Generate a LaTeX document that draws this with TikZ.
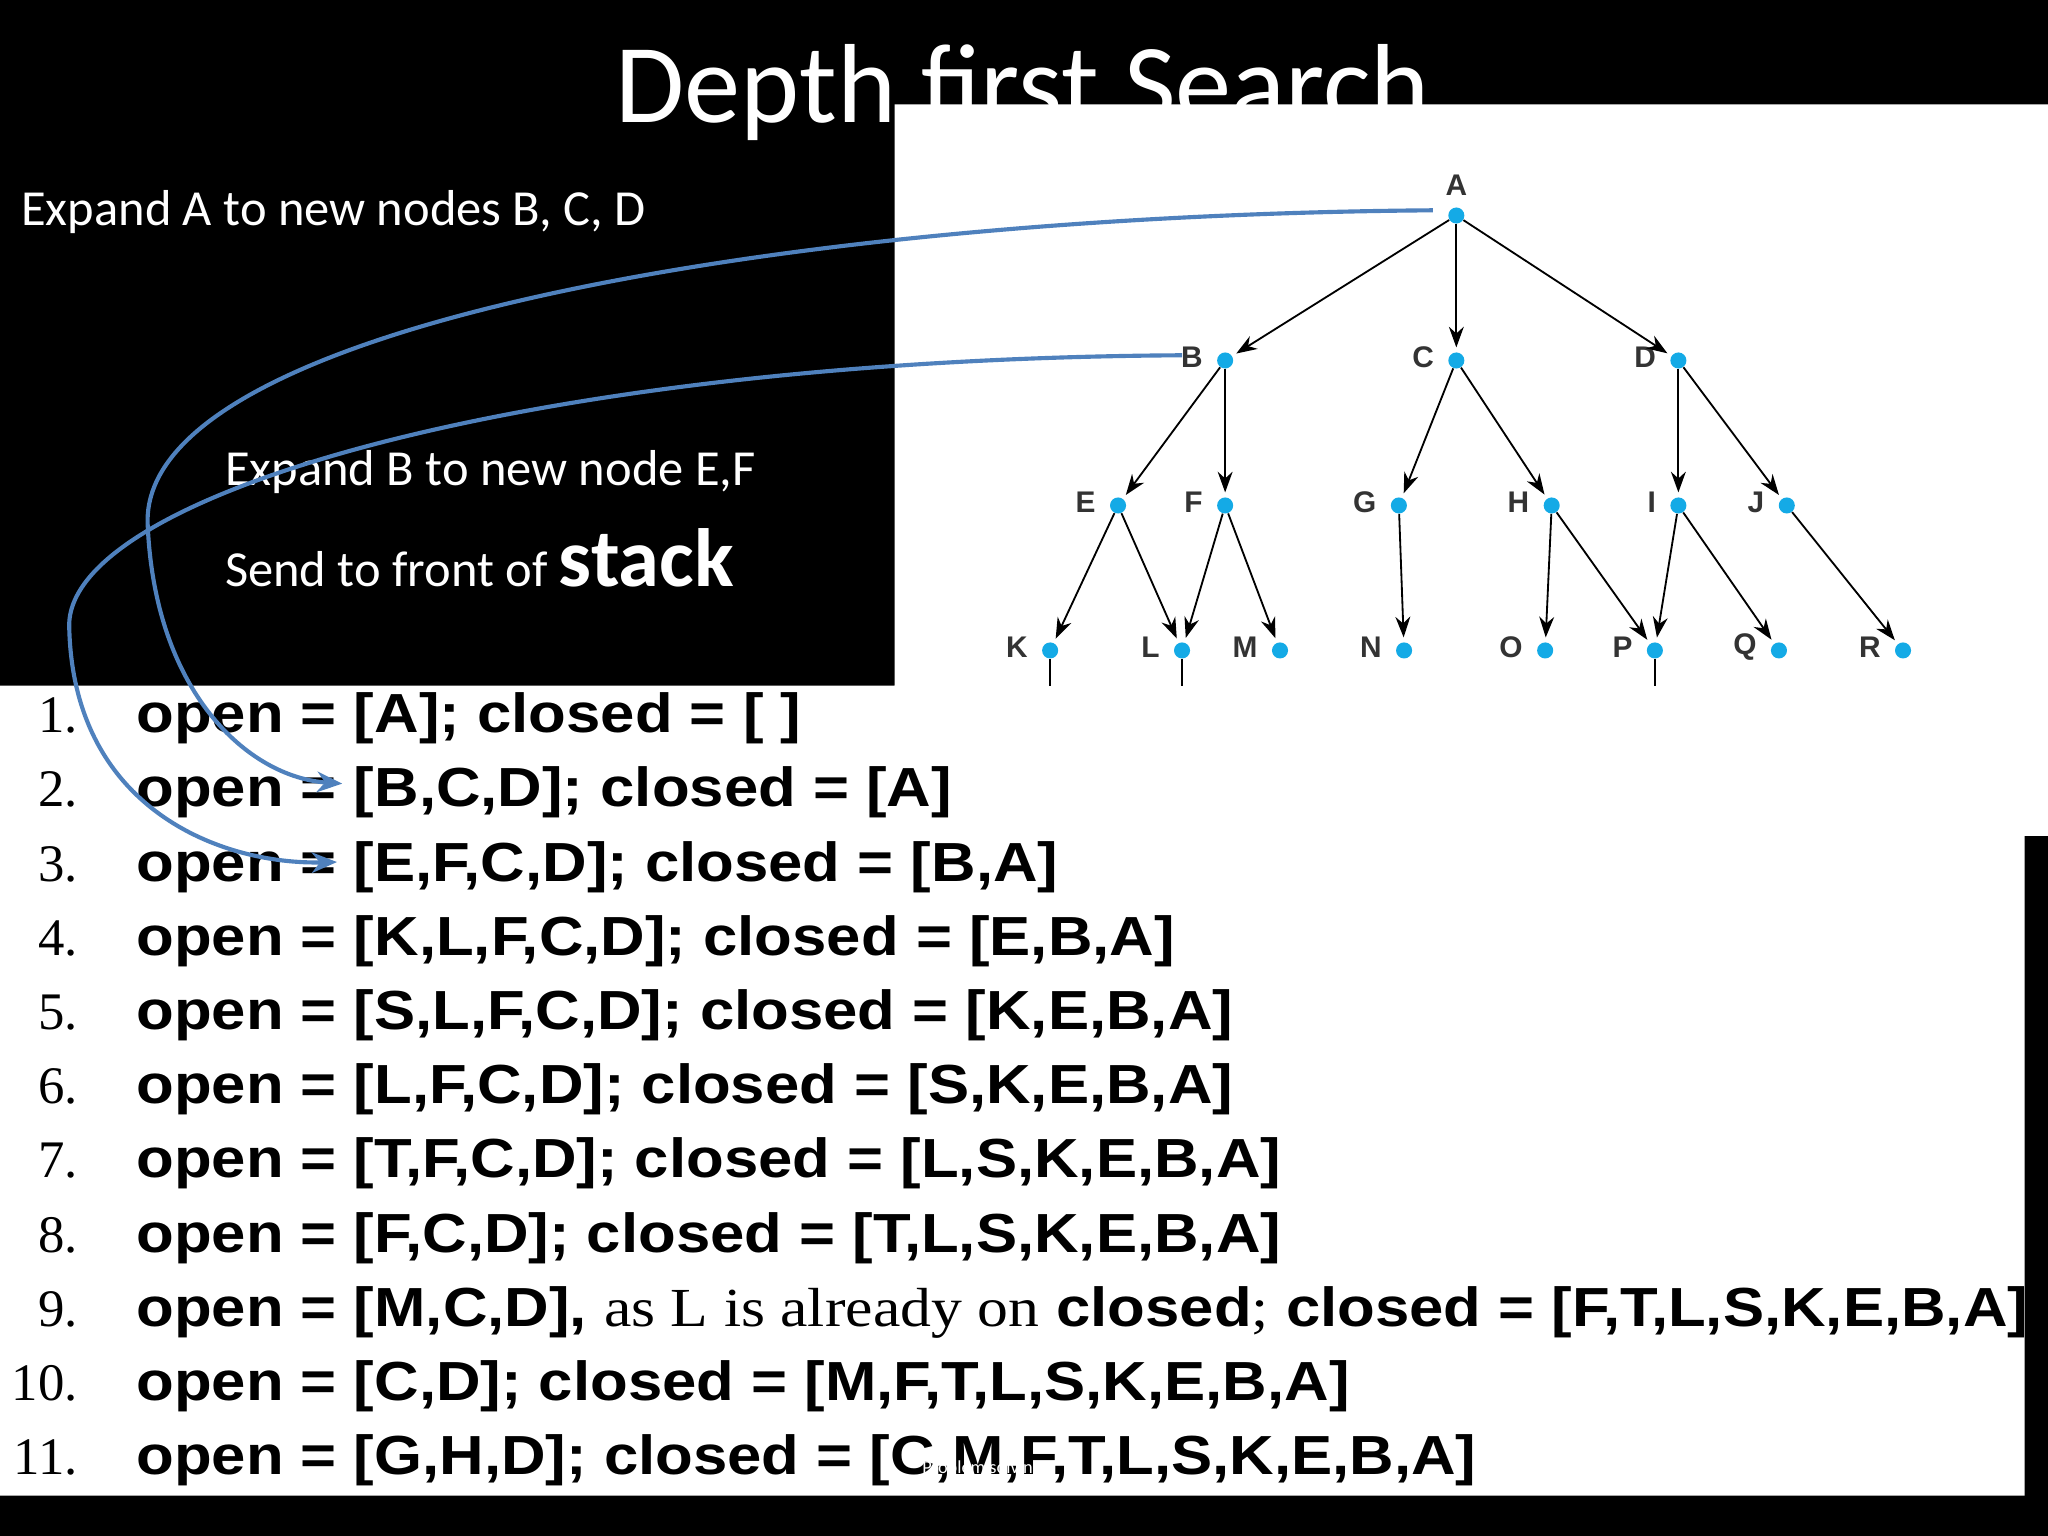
\documentclass[tikz,border=0pt]{standalone}
\usepackage{fontspec}
\setmainfont{Carlito}
\newfontfamily\hv{Liberation Sans}
\newfontfamily\tm{Liberation Serif}
\usetikzlibrary{arrows.meta}
\definecolor{cblue}{RGB}{79,129,189}
\definecolor{dotc}{RGB}{20,170,230}
\begin{document}
\begin{tikzpicture}[x=0.02cm,y=-0.02cm,
  dot/.style={circle,fill=dotc,inner sep=0pt,minimum size=7pt},
  lab/.style={font=\hv\bfseries\fontsize{13}{13}\selectfont,text=black!80},
  edge/.style={-{Stealth[length=9pt,width=6.5pt]},line width=0.8pt,shorten >=2pt},
  row/.style={anchor=base west,inner sep=0pt,xscale=1.12,font=\hv\bfseries\fontsize{24}{22}\selectfont},
  num/.style={anchor=base east,inner sep=0pt,font=\tm\fontsize{23}{22}\selectfont},
  curve/.style={cblue,line width=1.8pt,-{Stealth[length=11pt,width=9pt]}},
  wt/.style={text=white,anchor=base west,inner sep=0pt,font=\fontsize{22}{22}\selectfont}]
\fill[black] (0,0) rectangle (1568,1176);
\useasboundingbox (0,0) rectangle (1568,1176);
\node[text=white,font=\fontsize{49}{49}\selectfont,anchor=base] (title) at (783,94) {Depth first Search};
\fill[white] (0,525)--(685,525)--(685,80)--(1568,80)--(1568,640)--(1550,640)--(1550,1145)--(0,1145)--cycle;
% texts
\node[wt] (t1) at (16,173) {Expand A to new nodes B, C, D};
\node[wt] (t2) at (172,372) {Expand B to new node E,F};
\node[wt] (t3) at (172,449) {Send to front of {\bfseries\fontsize{36}{36}\selectfont stack}};
% tree
\foreach \n/\x/\y in {A/1115/165,B/938/276,C/1115/276,D/1285/276,E/856/387,F/938/387,G/1071/387,H/1188/387,I/1285/387,J/1368/387,K/804/498,L/905/498,M/980/498,N/1075/498,O/1183/498,P/1267/498,Q/1362/498,R/1457/498}
  \node[dot] (\n) at (\x,\y) {};
\node[lab] (lA) at (1115,142) {A};
\foreach \n in {B,C,D,E,F,G,H,I,J,K,L,M,N,O,P,Q,R}
  \node[lab,anchor=east] (l\n) at ([xshift=-0.22cm,yshift=0.05cm]\n.center) {\n};
\foreach \a/\b in {A/B,A/C,A/D,B/E,B/F,C/G,C/H,D/I,D/J,E/K,E/L,F/L,F/M,G/N,H/O,H/P,I/P,I/Q,J/R}
  \draw[edge] (\a) -- (\b);
\foreach \n in {K,L,P}{
  \coordinate (e\n) at ([yshift=-0.55cm]\n.center);
  \draw[line width=0.8pt] (\n) -- (e\n);}
% list
\foreach \i/\t [count=\k] in {
 1/{open = [A]; closed = [ ]},
 2/{open = [B,C,D]; closed = [A]},
 3/{open = [E,F,C,D]; closed = [B,A]},
 4/{open = [K,L,F,C,D]; closed = [E,B,A]},
 5/{open = [S,L,F,C,D]; closed = [K,E,B,A]},
 6/{open = [L,F,C,D]; closed = [S,K,E,B,A]},
 7/{open = [T,F,C,D]; closed = [L,S,K,E,B,A]},
 8/{open = [F,C,D]; closed = [T,L,S,K,E,B,A]},
 9/{open = [M,C,D], {\tm\mdseries as L is already on} closed{\tm\mdseries ;} closed = [F,T,L,S,K,E,B,A]},
 10/{open = [C,D]; closed = [M,F,T,L,S,K,E,B,A]},
 11/{open = [G,H,D]; closed = [C,M,F,T,L,S,K,E,B,A]}}{
  \node[num] (n\k) at (60,{549+12+(\k-1)*56.8}) {\i.};
  \node[row] (r\k) at (104,{549+12+(\k-1)*56.8}) {\t};}
\node[text=white,font=\fontsize{8}{8}\selectfont,anchor=base west] (ft) at (700,1128) {Problem solving};
% curves
\coordinate (sA) at (1097,161);
\coordinate (eA) at (262,600);
\coordinate (sB) at (905,272);
\coordinate (eB) at (258,660);
\draw[curve] (sA) .. controls (600,165) and (110,250) .. (113,400) .. controls (118,530) and (190,595) .. (eA);
\draw[curve] (sB) .. controls (400,275) and (50,380) .. (53,480) .. controls (56,620) and (170,662) .. (eB);
\end{tikzpicture}
\end{document}
